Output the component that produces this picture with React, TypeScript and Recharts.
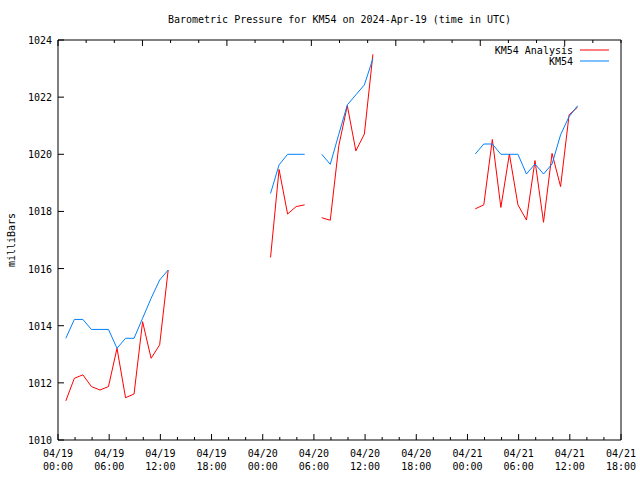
import React from 'react';
import { LineChart, Line, XAxis, YAxis, Legend } from 'recharts';

// observation times (UTC); a null in the values breaks the line
const obsTimes = [
  '04/19 00:55', '04/19 01:55', '04/19 02:55', '04/19 03:55', '04/19 04:55', '04/19 05:55', '04/19 06:55',
  '04/19 07:55', '04/19 08:55', '04/19 09:55', '04/19 10:55', '04/19 11:55', '04/19 12:55',
  '04/19 18:55',
  '04/20 00:55', '04/20 01:55', '04/20 02:55', '04/20 03:55', '04/20 04:55',
  '04/20 05:55',
  '04/20 06:55', '04/20 07:55', '04/20 08:55', '04/20 09:55', '04/20 10:55', '04/20 11:55', '04/20 12:55',
  '04/20 18:55',
  '04/21 00:55', '04/21 01:55', '04/21 02:55', '04/21 03:55', '04/21 04:55', '04/21 05:55', '04/21 06:55',
  '04/21 07:55', '04/21 08:55', '04/21 09:55', '04/21 10:55', '04/21 11:55', '04/21 12:55'
];

const analysisValues = [
  1011.37, 1012.16, 1012.28, 1011.87, 1011.75, 1011.87, 1013.21,
  1011.48, 1011.61, 1014.14, 1012.86, 1013.33, 1015.95,
  null,
  1016.39, 1019.47, 1017.91, 1018.17, 1018.23,
  null,
  1017.78, 1017.69, 1020.3, 1021.7, 1020.12, 1020.71, 1023.5,
  null,
  1018.09, 1018.23, 1020.52, 1018.14, 1020.01, 1018.23, 1017.7,
  1019.78, 1017.62, 1020.03, 1018.87, 1021.38, 1021.65
];

const km54Values = [
  1013.56, 1014.22, 1014.22, 1013.87, 1013.87, 1013.87, 1013.21,
  1013.56, 1013.56, 1014.26, 1014.96, 1015.6, 1015.95,
  null,
  1018.63, 1019.63, 1020.0, 1020.0, 1020.0,
  null,
  1020.0, 1019.65, 1020.7, 1021.73, 1022.08, 1022.43, 1023.35,
  null,
  1020.01, 1020.36, 1020.36, 1020.0, 1020.0, 1020.0, 1019.31,
  1019.66, 1019.31, 1019.66, 1020.68, 1021.32, 1021.7
];

const seriesNames = ['KM54 Analysis', 'KM54'];

const xTickLabels = [
  '04/19 00:00', '04/19 06:00', '04/19 12:00', '04/19 18:00',
  '04/20 00:00', '04/20 06:00', '04/20 12:00', '04/20 18:00',
  '04/21 00:00', '04/21 06:00', '04/21 12:00', '04/21 18:00'
];
const yTicks = [1010, 1012, 1014, 1016, 1018, 1020, 1022, 1024];

const FONT = 'DejaVu Sans Mono';
const START_DAY = 19;

// hours since 04/19 00:00
const toHours = (s: string) => {
  const [md, hm] = s.split(' ');
  const day = Number(md.split('/')[1]);
  const [hh, mm] = hm.split(':').map(Number);
  return (day - START_DAY) * 24 + hh + mm / 60;
};

const data = obsTimes.map((t, i) => ({
  h: toHours(t),
  analysis: analysisValues[i],
  km54: km54Values[i]
}));

const majorHours = xTickLabels.map(toHours);
const xDomain = [majorHours[0], majorHours[majorHours.length - 1]];
const xTicks: number[] = [];
for (let h = xDomain[0]; h <= xDomain[1]; h += 2) xTicks.push(h);

const labelFor = (v: number) => {
  const i = majorHours.indexOf(v);
  return i >= 0 ? xTickLabels[i] : null;
};

const BottomTick = (props: any) => {
  const { x, y, payload } = props;
  const label = labelFor(payload.value);
  return <g>
      <line x1={x} x2={x} y1={y} y2={y - (label ? 6 : 3)} stroke="#000" />
      {label && <text x={x} y={y + 17} textAnchor="middle" fontFamily={FONT} fontSize={10} fill="#000">
          {label.split(' ')[0]}
        </text>}
      {label && <text x={x} y={y + 30} textAnchor="middle" fontFamily={FONT} fontSize={10} fill="#000">
          {label.split(' ')[1]}
        </text>}
    </g>;
};

const TopTick = (props: any) => {
  const { x, y, payload } = props;
  const major = labelFor(payload.value) !== null;
  return <line x1={x} x2={x} y1={y} y2={y + (major ? 6 : 3)} stroke="#000" />;
};

const LeftTick = (props: any) => {
  const { x, y, payload } = props;
  return <g>
      <line x1={x} x2={x + 6} y1={y} y2={y} stroke="#000" />
      <text x={x - 6} y={y + 4} textAnchor="end" fontFamily={FONT} fontSize={10} fill="#000">
        {payload.value}
      </text>
    </g>;
};

const RightTick = (props: any) => {
  const { x, y } = props;
  return <line x1={x} x2={x - 6} y1={y} y2={y} stroke="#000" />;
};

const LegendBox = (props: any) => {
  const items = [...(props.payload || [])].sort((a: any, b: any) => seriesNames.indexOf(a.value) - seriesNames.indexOf(b.value));
  return <svg width={640} height={80} style={{ display: 'block' }}>
      {items.map((entry: any, i: number) => <g key={entry.value}>
          <text x={573} y={54 + i * 11} textAnchor="end" fontFamily={FONT} fontSize={10} fill="#000">
            {entry.value}
          </text>
          <line x1={580} x2={609} y1={50 + i * 11} y2={50 + i * 11} stroke={entry.color} />
        </g>)}
    </svg>;
};

export default function App() {
  return <div style={{ position: 'absolute', left: 0, top: 0, width: 640, height: 480, background: '#fff' }}>
      <LineChart width={640} height={480} data={data} margin={{ top: 39, right: 18, bottom: 0, left: 8 }}>
        <text x={339.5} y={23} textAnchor="middle" fontFamily={FONT} fontSize={10} fill="#000">
          Barometric Pressure for KM54 on 2024-Apr-19 (time in UTC)
        </text>
        <XAxis dataKey="h" type="number" domain={xDomain} ticks={xTicks} interval={0} height={40}
          tickSize={0} tickMargin={0} tickLine={false} axisLine={{ stroke: '#000' }} tick={<BottomTick />} />
        <XAxis xAxisId="top" orientation="top" type="number" domain={xDomain} ticks={xTicks} interval={0}
          height={1} tickSize={0} tickMargin={0} tickLine={false} axisLine={{ stroke: '#000' }} tick={<TopTick />} />
        <YAxis type="number" domain={[1010, 1024]} ticks={yTicks} interval={0} width={50}
          tickSize={0} tickMargin={0} tickLine={false} axisLine={{ stroke: '#000' }} tick={<LeftTick />}
          label={({ viewBox }: any) => <text transform={`translate(15, ${viewBox.y + viewBox.height / 2}) rotate(-90)`}
              textAnchor="middle" fontFamily={FONT} fontSize={10} fill="#000">milliBars</text>} />
        <YAxis yAxisId="right" orientation="right" type="number" domain={[1010, 1024]} ticks={yTicks} interval={0}
          width={1} tickSize={0} tickMargin={0} tickLine={false} axisLine={{ stroke: '#000' }} tick={<RightTick />} />
        <Legend layout="horizontal" verticalAlign="middle" align="center" content={<LegendBox />}
          wrapperStyle={{ top: 0, left: 0, width: 640, height: 80 }} />
        <Line name="KM54 Analysis" dataKey="analysis" stroke="#ff0000" strokeWidth={1} dot={false}
          type="linear" isAnimationActive={false} />
        <Line name="KM54" dataKey="km54" stroke="#0080ff" strokeWidth={1} dot={false}
          type="linear" isAnimationActive={false} />
      </LineChart>
    </div>;
}
